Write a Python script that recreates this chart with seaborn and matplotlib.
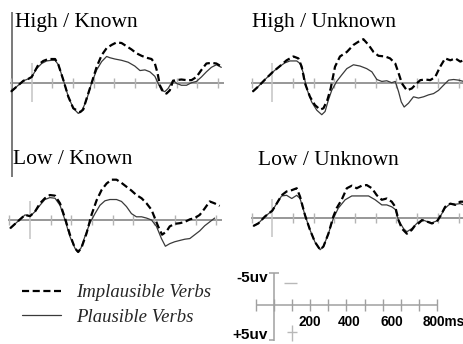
import numpy as np
import pandas as pd
import matplotlib
matplotlib.use("Agg")
import matplotlib.pyplot as plt
import seaborn as sns

# ---------------- data (ms, microvolts; negative plotted up) ----------------
hk_pl_t = [-100,-72,-40,-16,0,24,48,72,96,113,129,153,177,201,225,241,265,289,314,338,362,378,402,434,466,498,523,547,571,595,611,627,643,659,683,699,723,748,772,796,820,844,868,892,916]
hk_pl_v = [1.4,0.6,-0.3,-0.6,-0.9,-2.2,-3.0,-3.4,-3.5,-3.5,-2.8,-0.4,2.2,4.0,4.8,4.5,2.7,0.1,-2.0,-3.3,-4.1,-3.9,-3.7,-3.5,-3.2,-2.6,-1.9,-2.0,-1.7,-1.0,0.1,1.2,1.4,0.9,-0.4,0.1,0.4,0.4,0.0,-0.2,-0.9,-1.7,-2.4,-2.8,-2.4]
hk_im_t = [-100,-72,-40,-16,0,32,56,80,113,129,153,177,201,233,249,265,289,314,338,362,386,410,434,458,482,506,531,555,579,595,608,619,635,651,667,683,699,723,748,772,796,820,844,868,892,913]
hk_im_v = [1.4,0.6,-0.3,-0.6,-0.9,-2.8,-3.4,-3.7,-3.7,-2.8,-0.4,2.2,4.0,4.6,4.2,2.5,0.1,-2.5,-4.3,-5.4,-5.9,-6.3,-6.2,-5.7,-5.2,-4.6,-4.2,-3.9,-3.7,-3.0,-1.5,0.4,1.4,1.7,1.2,-0.3,-0.4,-0.5,-0.4,-0.4,-0.9,-2.0,-3.0,-3.1,-3.0,-2.6]

hu_pl_t = [-95,-68,-35,0,29,61,85,118,134,150,166,190,215,239,255,271,287,311,335,360,392,424,456,481,505,529,553,577,594,610,623,637,658,682,706,731,755,779,803,827,852,876,900,924]
hu_pl_v = [1.4,0.6,-0.5,-1.6,-2.4,-3.1,-3.4,-3.4,-3.0,-1.5,0.9,3.0,4.3,5.0,4.5,2.7,1.2,-0.2,-1.2,-2.2,-2.8,-2.6,-2.2,-1.7,-0.5,-0.2,-0.3,0.0,-0.2,1.4,3.0,3.8,3.2,2.2,2.4,2.2,1.9,1.7,1.2,0.4,-0.4,-0.5,-0.4,-0.2]
hu_im_t = [-95,-68,-35,0,37,69,102,126,142,158,182,206,231,247,266,282,303,327,360,392,416,440,465,489,513,545,569,594,610,626,650,674,698,715,739,763,787,811,835,860,884,908,924]
hu_im_v = [1.4,0.6,-0.5,-1.6,-2.6,-3.5,-4.1,-3.8,-2.5,0.1,2.2,3.5,4.2,4.0,2.7,0.9,-2.5,-4.1,-4.8,-5.9,-6.4,-6.8,-5.9,-4.8,-4.2,-4.1,-3.8,-3.0,-1.5,0.1,1.2,0.9,0.1,-0.4,-0.5,-0.4,-0.9,-2.5,-3.8,-3.5,-3.8,-3.3,-3.5]

lk_pl_t = [-96,-72,-48,-24,0,24,48,72,96,121,145,169,193,217,230,246,265,289,314,338,362,386,418,442,466,490,514,539,563,587,611,635,654,675,699,723,748,772,796,820,844,868,892]
lk_pl_v = [1.3,0.6,-0.1,-0.8,-0.6,-1.3,-2.3,-3.2,-3.5,-3.4,-2.3,0.0,2.6,4.4,5.0,4.4,2.6,0.5,-1.0,-2.3,-3.0,-3.2,-3.2,-2.9,-2.1,-1.0,-0.5,-0.5,-0.3,0.0,1.0,2.9,4.1,3.7,3.4,3.2,3.0,2.9,2.3,1.7,0.9,0.3,-0.3]
lk_im_t = [-96,-72,-48,-24,0,24,48,72,96,121,145,169,193,217,233,249,273,297,322,346,370,394,418,442,466,490,514,539,563,587,603,619,638,659,675,699,723,748,772,796,820,844,868,892,916]
lk_im_v = [1.3,0.6,-0.1,-0.8,-0.6,-1.3,-2.6,-3.4,-3.9,-3.8,-2.6,-0.3,2.3,4.4,5.0,4.3,2.1,-0.8,-3.1,-4.7,-5.7,-6.3,-6.3,-5.8,-5.2,-4.6,-3.9,-3.4,-2.6,-1.6,-0.3,1.0,2.3,1.8,1.0,0.6,0.5,0.3,-0.1,-0.3,-0.8,-1.8,-2.9,-2.6,-2.2]

lu_pl_t = [-92,-68,-35,0,21,45,69,94,118,134,158,182,206,231,247,271,295,319,352,384,424,465,497,529,553,577,594,610,634,650,674,698,723,747,771,795,811,835,860,884,908,924]
lu_pl_v = [1.3,0.9,-0.2,-1.1,-2.2,-3.4,-3.5,-3.0,-3.5,-3.0,-0.4,1.9,3.8,5.0,4.5,2.5,0.1,-1.5,-2.8,-3.4,-3.4,-3.4,-2.8,-2.0,-2.0,-1.7,-1.3,0.4,1.7,2.2,1.7,0.9,0.3,0.6,0.8,0.5,-0.2,-1.5,-2.2,-2.1,-2.2,-2.0]
lu_im_t = [-92,-68,-35,0,21,45,69,94,118,134,158,182,206,231,247,271,295,311,335,360,384,408,432,456,481,505,529,553,577,594,610,626,650,674,690,706,723,747,771,795,811,835,860,884,908,924]
lu_im_v = [1.3,0.9,-0.2,-1.1,-2.2,-3.5,-4.1,-4.3,-4.6,-3.3,-0.4,1.9,3.8,5.0,4.5,2.5,-0.2,-1.5,-2.8,-4.6,-5.0,-4.6,-5.0,-5.1,-4.6,-3.5,-2.8,-3.0,-2.5,-1.7,0.4,1.7,2.5,1.9,1.2,0.9,0.4,0.6,0.9,0.6,-0.2,-1.7,-2.2,-2.0,-2.5,-2.5]

panel_titles = ["High / Known", "High / Unknown", "Low / Known", "Low / Unknown"]
legend_labels = ["Implausible Verbs", "Plausible Verbs"]
time_ticks = list(range(-100, 1000, 100))
scale_labels = ["200", "400", "600", "800ms"]
amp_labels = ["-5uv", "+5uv"]

# ---------------- figure ----------------
sns.set_style("white")
W, H = 464, 344
fig = plt.figure(figsize=(W / 100, H / 100), dpi=100)
fig.patch.set_facecolor("white")

def px_axes(left, top, right, bottom):
    return fig.add_axes([left / W, 1 - bottom / H, (right - left) / W, (bottom - top) / H])

SX = 0.207   # px per ms
SY = 6.4     # px per microvolt
XL = (-105, 928)
YL = (7.0, -7.5)

def panel(x0, y0, title, tx, ty, pl_t, pl_v, im_t, im_v):
    ax = px_axes(x0 + XL[0] * SX, y0 + YL[1] * SY, x0 + XL[1] * SX, y0 + YL[0] * SY)
    ax.set_xlim(*XL)
    ax.set_ylim(*YL)
    ax.axis("off")
    ax.axhline(0, color="#7a7a7a", lw=1.1, zorder=1)
    short = [t for t in time_ticks if t != 0]
    ax.vlines(short, -0.8, 0.8, color="#b4b4b4", lw=1.0, zorder=1)
    ax.vlines([0], -3.0, 3.0, color="#c4c4c4", lw=1.1, zorder=1)
    df_pl = pd.DataFrame({"t": pl_t, "v": pl_v})
    df_im = pd.DataFrame({"t": im_t, "v": im_v})
    sns.lineplot(data=df_pl, x="t", y="v", ax=ax, color="#3a3a3a", lw=0.9,
                 estimator=None, sort=False, zorder=3)
    sns.lineplot(data=df_im, x="t", y="v", ax=ax, color="black", lw=1.6,
                 estimator=None, sort=False, zorder=4)
    ax.lines[-1].set_dashes((3.2, 1.6))
    ax.set_xlabel("")
    ax.set_ylabel("")
    fig.text(tx / W, 1 - ty / H, title, family="Liberation Serif", fontsize=15.5,
             ha="left", va="baseline", color="black")
    return ax

ax_hk = panel(31.7, 82.7, panel_titles[0], 15, 26.5, hk_pl_t, hk_pl_v, hk_im_t, hk_im_v)
ax_hu = panel(272.3, 82.7, panel_titles[1], 252.5, 26.7, hu_pl_t, hu_pl_v, hu_im_t, hu_im_v)
ax_lk = panel(30.0, 220.0, panel_titles[2], 13.5, 164.3, lk_pl_t, lk_pl_v, lk_im_t, lk_im_v)
ax_lu = panel(272.3, 217.7, panel_titles[3], 258.5, 165.0, lu_pl_t, lu_pl_v, lu_im_t, lu_im_v)

# left vertical rule of the figure
over = fig.add_axes([0, 0, 1, 1], zorder=-1)
over.set_xlim(0, W)
over.set_ylim(H, 0)
over.axis("off")
over.vlines([11.8], 12, 177, color="#555555", lw=1.1)

# ---------------- legend ----------------
h_im = ax_hk.lines[-1]
h_pl = ax_hk.lines[-2]
leg = fig.legend([h_im, h_pl], legend_labels, loc="upper left",
                 bbox_to_anchor=(22 / W, 1 - 284 / H), frameon=False,
                 prop={"family": "Liberation Serif", "style": "italic", "size": 13.5},
                 handlelength=2.1, handletextpad=0.8, labelspacing=0.4,
                 borderpad=0, borderaxespad=0)

# ---------------- scale bar ----------------
ssx, ssy = 0.181, 6.4
sx0, sy0 = 274.0, 305.0
sxl = (-110, 1050)
syl = (6.1, -5.6)
axs = px_axes(sx0 + sxl[0] * ssx, sy0 + syl[1] * ssy, sx0 + sxl[1] * ssx, sy0 + syl[0] * ssy)
axs.set_xlim(*sxl)
axs.set_ylim(*syl)
axs.axis("off")
gcol = "#a0a0a0"
axs.hlines(0, -100, 900, color=gcol, lw=1.1)
axs.vlines(time_ticks, -0.9, 0.9, color=gcol, lw=1.0)
axs.vlines([0], -5, 5.6, color=gcol, lw=1.1)
axs.hlines([-5], -28, 28, color=gcol, lw=1.1)
axs.hlines([5.5], -30, 0, color=gcol, lw=1.1)
axs.hlines([-3.4], 55, 127, color="#b8b8b8", lw=1.0)
axs.hlines([4.2], 72, 127, color="#b8b8b8", lw=1.0)
axs.vlines([100], 3.1, 5.6, color="#b8b8b8", lw=1.0)
for lab, xp in zip(scale_labels, [133, 354, 586, 822]):
    axs.text(xp, 2.7, lab, family="Liberation Sans", weight="bold", fontsize=9.8,
             ha="left", va="center", color="black")
axs.text(-33, -4.2, amp_labels[0], family="Liberation Sans", weight="bold",
         fontsize=11, ha="right", va="center", color="black")
axs.text(-33, 4.75, amp_labels[1], family="Liberation Sans", weight="bold",
         fontsize=11, ha="right", va="center", color="black")

fig.savefig("out.png", dpi=100, facecolor="white")
